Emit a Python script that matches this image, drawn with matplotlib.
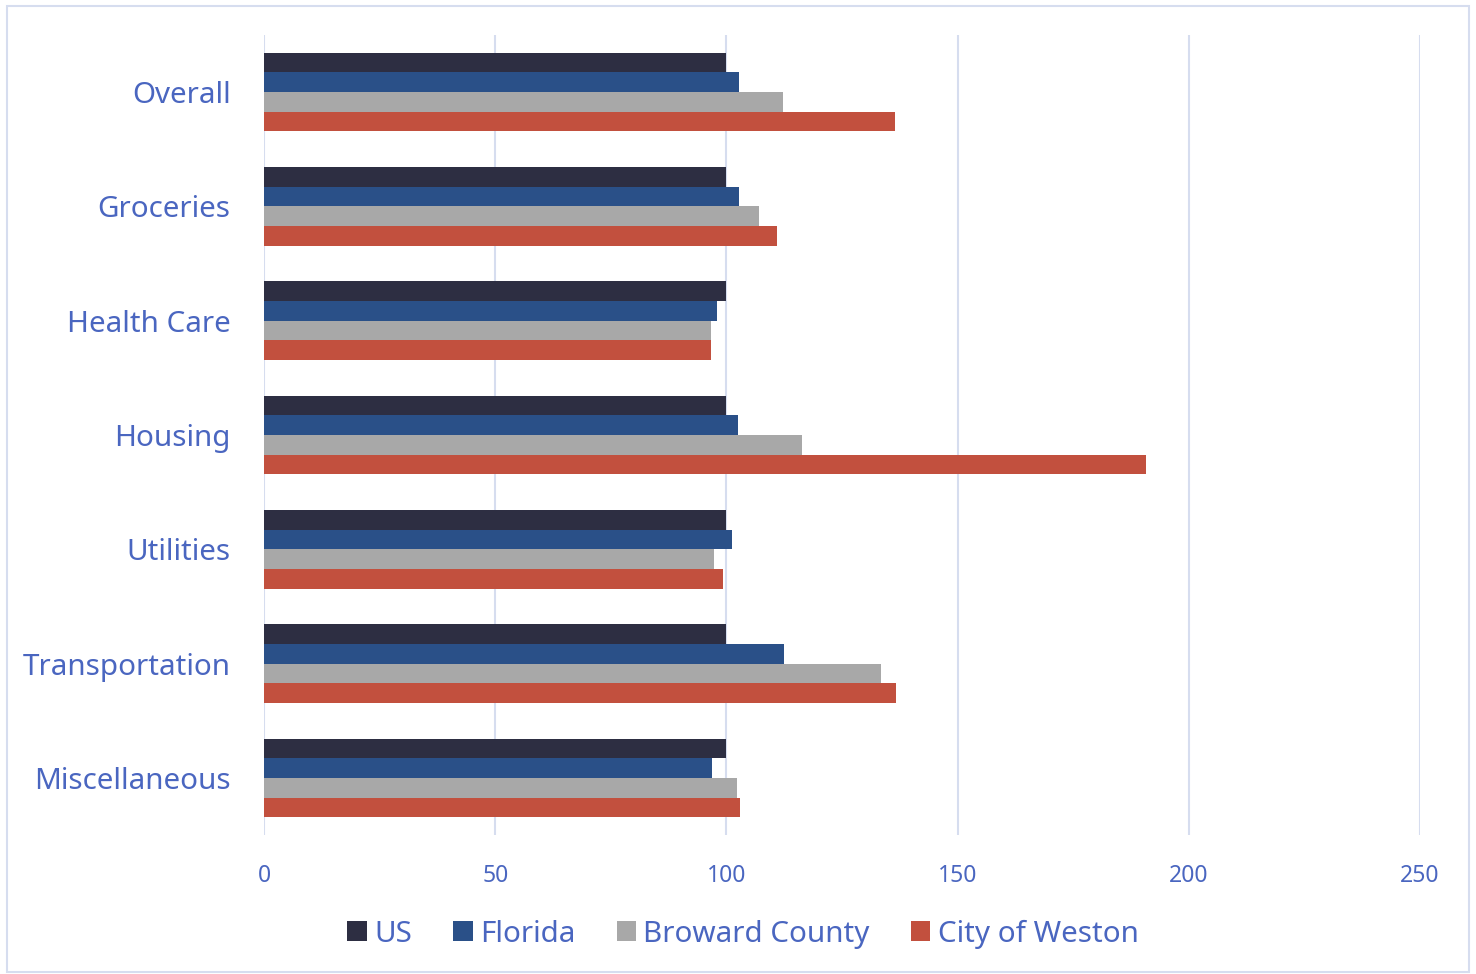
import matplotlib
matplotlib.use('Agg')
import matplotlib.pyplot as plt
import numpy as np
from matplotlib.patches import Rectangle

plt.rcParams['font.family'] = ['Noto Sans', 'DejaVu Sans']

categories = ['Overall', 'Groceries', 'Health Care', 'Housing', 'Utilities',
              'Transportation', 'Miscellaneous']
us = [100, 100, 100, 100, 100, 100, 100]
florida = [102.8, 102.8, 97.9, 102.5, 101.2, 112.4, 96.9]
broward = [112.3, 107.0, 96.6, 116.3, 97.3, 133.4, 102.2]
weston = [136.4, 110.9, 96.6, 190.7, 99.2, 136.6, 102.9]

series = [('US', us, '#2d2e42'),
          ('Florida', florida, '#2a5088'),
          ('Broward County', broward, '#a8a8a8'),
          ('City of Weston', weston, '#c2503e')]

text_col = '#4a66c0'
grid_col = '#d6ddef'

fig = plt.figure(figsize=(14.76, 9.74), dpi=100)
ax = fig.add_axes([264 / 1476, 1 - 835 / 974, (1420 - 264) / 1476, 800 / 974])

y = np.arange(len(categories))
h = 0.172
for i, (name, vals, col) in enumerate(series):
    ax.barh(y - 1.5 * h + i * h, vals, height=h, color=col, label=name, zorder=3)

ax.set_xlim(0, 250)
ax.set_ylim(len(categories) - 0.5, -0.5)
ax.set_xticks([0, 50, 100, 150, 200, 250])
ax.set_yticks(y)
ax.set_yticklabels(categories)
ax.grid(True, axis='x', color=grid_col, linewidth=1.5, zorder=0)
for s in ax.spines.values():
    s.set_visible(False)
ax.tick_params(axis='x', length=0, pad=21, labelsize=16.5, labelcolor=text_col)
ax.tick_params(axis='y', length=0, pad=24, labelsize=21.3, labelcolor=text_col)

leg = fig.legend(loc='center', bbox_to_anchor=(743 / 1476, 1 - 934 / 974), ncol=4,
                 frameon=False, fontsize=21.3, handlelength=0.65, handleheight=0.65,
                 handletextpad=0.25, columnspacing=1.4)
for t in leg.get_texts():
    t.set_color(text_col)

fig.patches.append(Rectangle((7 / 1476, 2 / 974), 1462 / 1476, 966 / 974,
                             transform=fig.transFigure, fill=False,
                             edgecolor=grid_col, linewidth=1.5))

fig.savefig('out.png', dpi=100)
